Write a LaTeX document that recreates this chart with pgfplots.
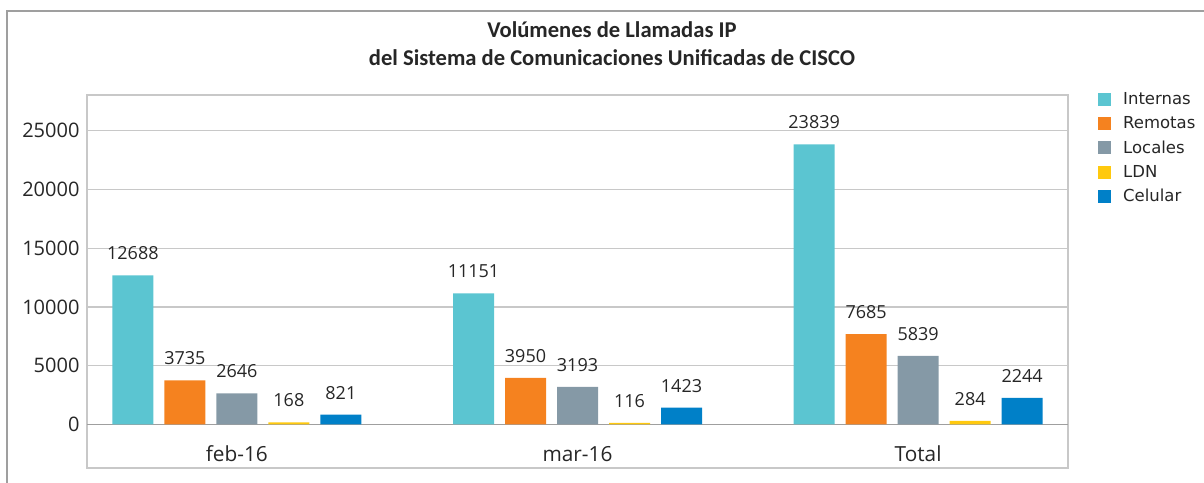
\documentclass[border=0pt]{standalone}
\usepackage{fontspec}
\setmainfont{Open Sans}
\newfontfamily\legfont{DejaVu Sans}
\newfontfamily\titfont{Carlito}
\usepackage{pgfplots}
\pgfplotsset{compat=1.18}
\definecolor{cInt}{HTML}{5BC5D1}
\definecolor{cRem}{HTML}{F5821F}
\definecolor{cLoc}{HTML}{8599A6}
\definecolor{cLDN}{HTML}{FFC90E}
\definecolor{cCel}{HTML}{0080C8}
\definecolor{txt}{HTML}{262626}
\definecolor{gridc}{HTML}{C8C8C8}
\begin{document}
\begin{tikzpicture}[x=1bp,y=1bp]
\useasboundingbox (0,0) rectangle (1204,483);
\draw[gray!75, line width=1.2bp] (7,0) -- (7,472) -- (1204,472);
\node[font=\titfont\bfseries\fontsize{22.6bp}{28bp}\selectfont, align=center, text=txt] at (612,439)
  {Volúmenes de Llamadas IP\\del Sistema de Comunicaciones Unificadas de CISCO};
\begin{axis}[
  at={(87bp,15bp)}, anchor=south west,
  scale only axis, width=981bp, height=373bp,
  xmin=-0.44, xmax=2.44, ymin=-3720, ymax=28050,
  xtick={0,1,2}, xticklabels={feb-16,mar-16,Total},
  ytick={0,5000,10000,15000,20000,25000},
  scaled y ticks=false,
  /pgf/number format/.cd, 1000 sep={}, fixed, assume math mode=true, /pgfplots/.cd,
  major tick length=0pt,
  ymajorgrids, grid style={gridc, line width=1.3bp},
  axis line style={gridc, line width=1.3bp},
  extra y ticks={0}, extra y tick labels={},
  extra y tick style={grid style={gray!75, line width=1.3bp}},
  tick label style={font=\fontsize{20bp}{24bp}\selectfont, text=txt},
  yticklabel style={xshift=-4bp},
  xticklabel style={anchor=center, yshift=14bp, font=\fontsize{20.8bp}{24bp}\selectfont},
  ybar=11bp, bar width=41bp,
  nodes near coords,
  every node near coord/.append style={font=\fontsize{18bp}{22bp}\selectfont, text=txt, anchor=center, yshift=22bp},
  every axis plot/.append style={draw=none, legend image code/.code={\fill[##1] (0bp,-6.5bp) rectangle (13bp,6.5bp);}},
  legend style={at={(1.0275,1.017)}, anchor=north west, draw=none, fill=none,
    font=\legfont\fontsize{16.5bp}{19bp}\selectfont, text=txt, row sep=6.5bp,
    nodes={inner xsep=12bp}},
  legend cell align=left,
]
\addplot[fill=cInt] coordinates {(0,12688) (1,11151) (2,23839)};
\addplot[fill=cRem] coordinates {(0,3735) (1,3950) (2,7685)};
\addplot[fill=cLoc] coordinates {(0,2646) (1,3193) (2,5839)};
\addplot[fill=cLDN] coordinates {(0,168) (1,116) (2,284)};
\addplot[fill=cCel] coordinates {(0,821) (1,1423) (2,2244)};
\legend{Internas,Remotas,Locales,LDN,Celular}
\end{axis}
\end{tikzpicture}
\end{document}
